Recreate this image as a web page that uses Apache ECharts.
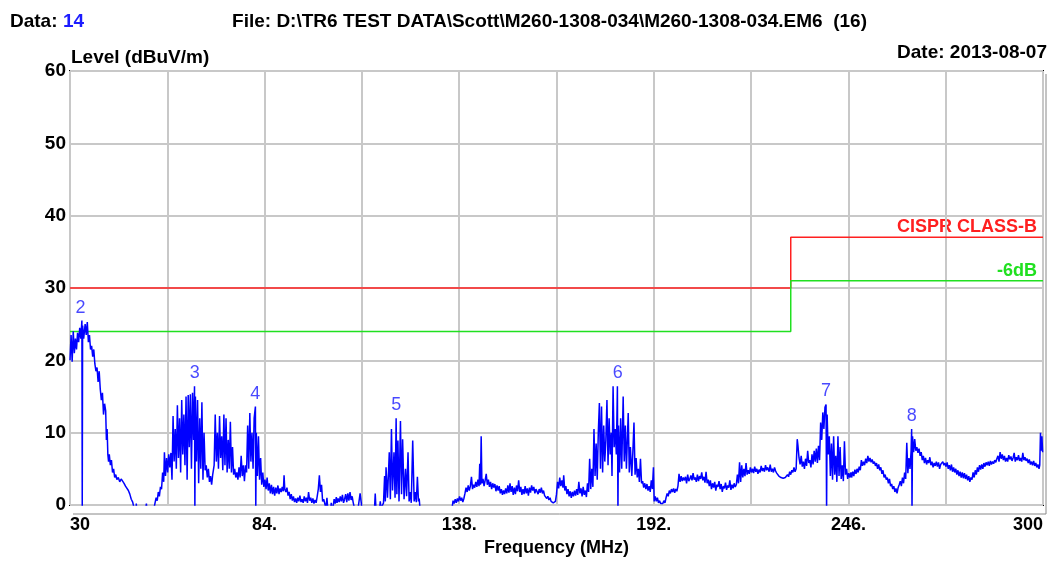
<!DOCTYPE html>
<html><head><meta charset="utf-8">
<script src="https://cdn.jsdelivr.net/npm/echarts@6/dist/echarts.min.js"></script>
<style>html,body{margin:0;padding:0;background:#fff}#c{width:1063px;height:562px}</style>
</head><body><div id="c"></div><script>
// ---- data ----
const xTickLabels = {30:'30',84:'84.',138:'138.',192:'192.',246:'246.',300:'300'};
const limitFreqs = [30, 230, 300];
const classBLevels = [30, 37];
const sixDbLevels = [24, 31];
// peak markers: [freq, level, label]
const markers = [[32.9,25.5,'2'],[64.6,16.4,'3'],[81.4,13.6,'4'],[120.5,12,'5'],[182,16.4,'6'],[239.8,13.9,'7'],[263.6,10.5,'8']];
// measured trace: [freq MHz, level dBuV/m]
const trace = [
[30.0,20],[30.3,23.5],[30.6,19.8],[30.9,24],[31.2,21],[31.5,23],[31.8,21.5],[32.1,23.8],[32.4,22.5],[32.7,24.5],[33.0,23],[33.3,25.5],[33.4,-1],[33.5,24.8],[33.8,23],[34.2,25],[34.5,23.5],[34.8,25.3],[35.1,22.5],[35.4,23.5],[35.7,21.5],[36.0,22],[36.3,20.5],[36.6,21.5],[36.9,19.5],[37.2,18.5],[37.5,19],[37.8,17],[38.1,18.5],[38.4,16],[38.7,14.5],[39.0,15.5],[39.3,12.5],[39.6,14],[39.9,13],[40.1,9],[40.3,10.5],[40.5,7],[40.7,6],[40.9,7],[41.2,5.5],[41.5,6.2],[41.8,4.5],[42.1,5],[42.4,3.8],[42.7,4.2],[43.0,3.5],[43.4,3.8],[43.8,3.2],[44.2,3.6],[44.6,3.3],[45.0,3],[45.4,2.6],[45.8,2.8],[46.2,2],[46.6,1.5],[47.0,0.8],[47.4,0.4],[47.8,-0.5],[48.2,-2],[48.4,0.2],[48.6,-2],[49.5,-3],[50.5,-3],[51.0,-0.5],[51.2,0.2],[51.4,-1],[52.5,-3],[53.3,-0.5],[53.6,0.3],[53.9,1],[54.2,0.6],[54.5,1.8],[54.8,1.2],[55.1,2.5],[55.4,2.2],[55.7,4.5],[56.0,3.2],[56.2,7.3],[56.5,4],[56.8,6.5],[57.1,4.5],[57.4,7.0],[57.7,5.2],[58.0,7.2],
[58.3,3.5],[58.6,12.3],[58.9,6],[59.2,10.5],[59.5,5],[59.8,13.8],[60.1,6.5],[60.4,12],[60.7,4.5],[61.0,14.5],[61.3,7],[61.6,12.5],[61.9,5.5],[62.2,15],[62.5,3.5],[62.8,15.2],[63.1,8],[63.4,15.3],[63.7,5],[64.0,15.5],[64.3,9],[64.55,16.4],[64.65,-1],[64.8,15],[65.1,6],[65.4,14.5],[65.7,3],[66.0,12],[66.3,5],[66.6,14.2],[66.9,3.5],[67.2,10],[67.5,4.8],[67.8,5.5],[68.1,3.8],[68.4,5],[68.7,3.2],[69.0,4],[69.3,2.8],[69.6,4.2],
[70.0,5.5],[70.3,12.5],[70.6,6],[70.9,10],[71.2,5],[71.5,12.3],[71.8,6.5],[72.1,9.5],[72.4,4.8],[72.7,12.5],[73.0,5.5],[73.3,12],[73.6,4.5],[73.9,9],[74.2,5],[74.5,11.5],[74.8,4.5],[75.1,8],[75.4,4.2],[75.7,5],[76.0,3.8],[76.3,4.5],[76.6,3.5],[76.9,5.2],[77.2,3.8],[77.5,6.8],[77.8,4],[78.1,5.5],[78.4,3.3],[78.7,5.5],
[79.0,4.5],[79.3,11],[79.6,5],[79.9,12.7],[80.2,6],[80.5,10],[80.8,5],[81.1,12],[81.45,13.6],[81.55,-1],[81.7,10],[82.0,4],[82.3,9.5],[82.6,3.5],[82.9,6.5],[83.2,2.8],[83.5,4.5],[83.8,2.5],[84.1,3.5],
[84.4,2.2],[84.7,3.8],[85.0,2],[85.3,3],[85.6,1.6],[85.9,2.8],[86.2,1.5],[86.5,2.5],[86.8,1.3],[87.1,2.4],[87.4,1.6],[87.7,2.7],[88.0,1.5],[88.3,2.3],[88.6,1.8],[88.9,2.5],[89.2,1.9],[89.4,4.1],[89.6,2.2],[89.9,1.8],[90.2,2.4],[90.5,1.3],[90.8,1.8],[91.1,0.8],[91.4,1.5],
[91.7,0.6],[92.0,1.2],[92.3,0.4],[92.6,0.9],[92.9,0.3],[93.2,1],[93.5,0.5],[93.8,1.3],[94.1,0.4],[94.4,0.8],[94.7,0.3],[95.0,1.2],[95.3,0.5],[95.6,1.0],[95.9,0.3],[96.2,1.8],[96.5,0.6],[96.8,1.0],[97.1,0.3],[97.4,0.9],[97.7,0.2],[98.0,0.7],[98.3,0.3],
[98.6,1.2],[98.9,2.2],[99.2,4.1],[99.5,1.8],[99.8,2.8],[100.1,0.5],[100.4,0.8],[100.7,0.2],[101.0,-0.5],[101.3,1.0],[101.6,-1],[102.2,-1],[102.5,0.3],[102.8,-1],[103.3,0.8],[103.6,0.2],[103.9,1.1],[104.1,0.3],[104.4,0.9],
[104.7,0.4],[105.0,1.2],[105.3,0.5],[105.6,1.4],[105.9,0.3],[106.2,0.8],[106.5,1.5],[106.8,0.4],[107.1,1.6],[107.4,0.6],[107.7,1.8],[108.0,0.7],[108.3,1.2],[108.6,0.3],[108.9,0.5],[109.2,-1],[109.8,-1],[110.2,0.5],[110.5,1.6],[110.8,0.4],[111.1,-1],[112.5,-2],[114.5,-0.5],[114.7,1.6],[114.9,-0.5],[115.9,-0.5],[116.1,0.5],[116.3,-0.5],
[117.0,0.3],[117.3,4],[117.5,0.5],[117.7,5.2],[118.1,1],[118.6,7.3],[118.9,0.8],[119.2,10.5],[119.5,2],[119.9,7.3],[120.2,1],[120.5,12],[120.7,1.5],[121.0,8.9],[121.3,0.5],[121.7,11.6],[122.0,1.5],[122.3,9.1],[122.7,0.8],[123.1,5],[123.4,1.2],[123.8,7.3],[124.1,0.5],[124.4,1.8],[124.7,0.3],[125.1,8.9],[125.5,0.5],[125.8,1.8],[126.1,0.4],[126.4,3.9],[126.7,0.5],[126.9,0.9],[127.2,-1],[131,-3],
[136.0,-0.5],[136.3,0.6],[136.6,0.2],[136.9,0.8],[137.2,0.3],[137.5,0.9],[137.8,0.5],[138.1,1.2],[138.4,0.6],[138.7,1.0],
[139.0,0.4],[139.3,0.9],[139.6,1.6],[139.9,2.4],[140.2,1.8],[140.5,2.7],[140.8,2],[141.1,2.6],[141.4,3.9],[141.7,2.2],[142.0,2.8],[142.3,2.4],[142.6,3.2],[142.9,2.5],[143.2,3.5],[143.5,2.6],[143.7,5.7],[143.9,2.8],[144.1,9.5],[144.3,3.0],[144.6,3.6],
[144.9,2.6],[145.2,3.4],[145.5,4.3],[145.8,2.8],[146.1,3.5],[146.4,2.5],[146.7,3.2],[147.0,2.2],[147.3,3],[147.6,2.4],[147.9,2.9],[148.2,1.9],[148.5,2.7],[148.8,2],[149.1,2.6],[149.4,1.6],[149.7,2.2],[150.0,1.4],[150.3,2.0],
[150.6,1.5],[150.9,2.3],[151.2,1.6],[151.5,2.7],[151.8,1.7],[152.1,3.0],[152.4,1.8],[152.7,2.6],[153.0,1.4],[153.3,2.4],[153.6,1.5],[153.9,2.7],[154.2,1.9],[154.5,3.4],[154.8,1.8],
[155.1,2.5],[155.4,1.4],[155.7,2.2],[156.0,1.5],[156.3,2.6],[156.6,1.6],[156.9,2.3],[157.2,1.3],[157.5,2.4],[157.8,1.7],[158.1,2.7],[158.4,2.0],[158.7,2.5],[159.0,1.6],[159.3,2.2],[159.6,2.4],
[159.9,1.5],[160.2,2.2],[160.5,1.7],[160.8,2.4],[161.1,1.6],[161.4,2.0],[161.7,1.3],[162.0,1.4],[162.3,0.9],[162.6,1.2],[162.9,0.7],[163.2,1.0],[163.5,0.5],[163.8,0.6],[164.1,0.3],[164.4,0.2],[164.7,0.5],
[165.0,1.5],[165.3,3.2],[165.6,2.3],[165.9,3.8],[166.2,2.6],[166.5,3.4],[166.8,2.4],[167.0,4.1],
[167.3,2.0],[167.6,2.6],[167.9,1.5],[168.2,2.2],[168.5,1.2],[168.8,1.9],[169.1,1.0],[169.4,1.8],[169.7,1.2],[170.0,2.0],[170.3,1.3],[170.6,2.2],[170.9,1.4],[171.2,3.2],[171.5,1.6],[171.8,2.3],[172.1,1.2],[172.4,2.5],[172.7,1.4],[173.0,2.0],[173.3,1.1],
[173.6,3.0],[173.9,1.8],[174.2,6.4],[174.5,2.2],[174.8,5],[175.1,2.5],[175.4,10.5],[175.7,4],[176.0,8.5],[176.3,3.5],[176.6,10],[176.9,14.1],[177.2,5],
[177.5,13.6],[177.8,4.5],[178.1,11],[178.4,6],[178.7,9],[179.0,14.5],[179.3,5.5],[179.6,12],[179.9,7],[180.2,10],[180.4,4],[180.7,16.4],[181.0,8],[181.3,10.5],
[181.6,7],[181.9,16.4],[182.05,-1],[182.2,11],[182.5,4.5],[182.8,12],[183.1,5],[183.5,15],[183.8,6],[184.1,11],[184.4,5],[184.9,12.7],[185.2,4.5],[185.5,8],
[185.9,4],[186.2,7.5],[186.5,11.4],[186.8,4.2],[187.1,6.5],[187.4,3.8],[187.7,5],[188.0,3.2],[188.3,6.4],[188.6,3.0],
[188.9,3.3],[189.2,2.4],[189.5,3.0],[189.8,2.2],[190.1,2.9],[190.4,2.0],[190.7,2.6],[191.0,1.8],[191.3,3.4],[191.6,2.2],[191.9,5.2],[192.1,0.5],
[192.4,1.2],[192.7,0.5],[193.0,1.0],[193.3,0.3],[193.6,0.6],[193.9,0.2],[194.2,0.4],[194.5,0.2],[194.8,0.6],[195.1,0.3],[195.4,1.0],[195.7,1.6],[196.0,1.2],[196.3,2.0],[196.6,1.6],[196.9,2.2],[197.2,1.8],[197.5,2.3],[197.8,1.7],[198.1,2.2],[198.4,1.9],[198.7,2.6],
[199.0,4.3],[199.3,3.2],[199.6,4.0],[199.9,3.3],[200.2,3.8],[200.5,3.4],[200.8,3.9],[201.1,3.0],[201.4,4.2],[201.7,3.3],[202.0,3.6],[202.3,4.1],[202.6,3.4],[202.9,4.4],[203.2,3.5],[203.5,3.8],[203.8,3.2],[204.1,4.2],[204.4,3.3],[204.7,4.0],[205.0,3.6],[205.3,4.5],[205.6,3.4],[205.9,3.9],[206.2,3.1],[206.5,4.6],[206.8,3.0],[207.1,3.5],
[207.4,2.6],[207.7,3.4],[208.0,2.2],[208.3,3.0],[208.6,2.4],[208.9,3.2],[209.2,2.0],[209.5,2.8],[209.8,2.5],[210.1,3.3],[210.4,2.2],[210.7,2.9],[211.0,1.8],[211.3,2.6],[211.6,2.3],[211.9,3.1],[212.2,2.1],[212.5,2.7],[212.8,2.4],[213.1,3.4],[213.4,2.1],[213.7,2.8],[214.0,2.3],[214.3,3.0],[214.6,2.5],[214.9,2.8],
[215.2,4.2],[215.5,3.0],[215.8,5.9],[216.1,3.2],[216.4,5.5],[216.7,3.8],[217.0,5.0],[217.3,4.0],[217.6,5.8],[217.9,4.2],[218.2,4.8],
[218.5,4.3],[218.8,5.2],[219.1,4.5],[219.4,5.0],[219.7,4.4],[220.0,5.3],[220.3,4.6],[220.6,5.0],[220.9,4.3],[221.2,4.9],[221.5,4.5],[221.8,5.4],[222.1,4.7],[222.4,5.1],[222.7,4.6],[223.0,5.5],[223.3,4.8],[223.6,5.2],[224.0,4.6],[224.3,5.6],[224.6,4.6],[224.9,5.0],[225.2,4.5],[225.5,5.2],[225.8,4.7],[226.1,4.4],[226.4,4.2],[226.7,4.0],[227.0,4.2],[227.3,3.8],[227.6,3.6],[227.9,3.7],[228.2,3.5],[228.5,3.8],[228.8,3.6],[229.1,4.2],[229.4,3.9],[229.7,4.6],[230.0,4.2],[230.3,4.8],[230.6,4.5],[230.9,5.2],[231.2,4.6],[231.5,5.0],
[231.8,9.1],[232.0,8.2],[232.3,6.5],[232.6,5.6],[232.9,6.8],[233.2,5.3],[233.5,6.0],[233.8,5.0],[234.1,6.4],[234.4,5.4],[234.7,7.5],[235.0,5.8],[235.3,6.2],[235.6,5.2],[235.9,7.0],[236.2,5.6],[236.5,7.5],[236.8,6.0],[237.1,7.8],[237.4,5.8],[237.7,8.2],[238.0,6.2],[238.3,11.4],[238.6,9.0],[238.9,12.8],[239.2,10.5],[239.5,13.5],[239.8,13.9],[239.95,-1],[240.1,12.5],[240.4,7.0],[240.7,9.5],[241.0,4.0],[241.3,8.5],[241.6,3.5],[241.9,9.5],[242.2,4.2],[242.5,6.8],[242.8,3.2],[243.1,9.5],[243.4,4.0],[243.7,8.0],[244.0,3.6],[244.3,5.5],[244.6,3.3],[244.9,8.8],[245.2,4.2],[245.5,5.0],[245.8,3.6],[246.1,4.4],[246.4,3.8],[246.7,4.5],
[246.9,3.8],[247.2,4.6],[247.5,4.0],[247.8,4.9],[248.1,4.3],[248.4,5.0],[248.7,4.5],[249.0,5.3],[249.3,4.8],[249.6,6.2],[249.9,5.4],[250.2,6.0],[250.5,5.5],[250.8,6.4],[251.1,5.8],[251.4,6.8],[251.7,6.0],[252.0,6.5],[252.3,5.9],[252.6,6.3],[252.9,5.7],[253.2,6.0],[253.5,5.4],[253.8,5.8],[254.1,5.0],[254.4,5.6],[254.7,4.8],[255.0,5.2],[255.3,4.3],[255.6,4.8],[255.9,3.8],[256.2,4.2],[256.5,3.5],[256.8,3.8],[257.1,3.0],[257.4,3.6],[257.7,2.6],[258.0,2.9],[258.3,2.2],[258.6,2.6],[258.9,1.8],[259.2,2.3],[259.5,1.6],[259.8,2.4],
[260.1,2.8],[260.4,3.3],[260.7,2.6],[261.0,3.8],[261.3,3.0],[261.6,4.5],[261.9,3.6],[262.2,8.6],[262.5,4.4],[262.8,6.5],[263.1,5.0],[263.4,7.5],[263.55,10.5],[263.65,-1],[263.8,9.5],[264.1,7.3],[264.4,9.1],[264.7,7.5],[265.0,8.0],[265.3,7.2],[265.6,7.8],
[265.9,6.8],[266.2,7.3],[266.5,6.2],[266.8,6.8],[267.1,5.8],[267.4,6.5],[267.7,5.6],[268.0,6.2],[268.3,5.8],[268.6,6.6],[268.9,5.5],[269.2,6.0],[269.5,5.2],[269.8,5.8],[270.1,5.4],[270.4,6.0],
[270.7,5.3],[271.0,5.9],[271.3,5.0],[271.6,5.6],[271.9,5.4],[272.2,6.0],[272.5,5.5],[272.8,5.8],[273.1,5.3],[273.4,5.9],[273.7,5.0],[274.0,5.5],[274.3,4.8],[274.6,5.6],[274.9,4.6],[275.2,5.2],[275.5,4.5],[275.8,5.0],[276.1,4.2],[276.4,4.8],[276.7,4.0],[277.0,4.6],[277.3,3.8],[277.6,4.5],[277.9,3.7],
[278.2,4.4],[278.5,3.6],[278.8,4.2],[279.1,3.4],[279.4,4.0],[279.7,3.2],[280.0,3.8],[280.3,3.5],[280.6,4.5],[280.9,3.8],
[281.2,4.8],[281.5,4.2],[281.8,5.2],[282.1,4.6],[282.4,5.5],[282.7,4.9],[283.0,5.6],[283.3,5.0],[283.6,5.8],[283.9,5.3],[284.2,5.9],[284.5,5.5],[284.8,6.0],[285.1,5.4],[285.4,6.1],[285.7,5.6],[286.0,6.0],[286.3,5.7],[286.6,6.2],[286.9,5.9],[287.2,6.4],
[287.5,6.8],[287.8,6.0],[288.1,7.3],[288.4,6.4],[288.7,7.0],[289.0,6.2],[289.3,6.8],[289.6,6.0],[289.9,6.5],[290.2,6.0],[290.5,6.9],[290.8,6.3],[291.1,6.7],[291.4,6.1],[291.7,6.5],[292.0,7.2],[292.3,6.0],[292.6,6.6],[292.9,6.2],[293.2,6.9],[293.5,6.1],[293.8,6.5],[294.1,6.0],[294.4,7.2],[294.7,6.2],[295.0,6.6],[295.3,6.1],[295.6,6.4],
[295.9,5.8],[296.2,6.3],[296.5,5.6],[296.8,6.0],[297.1,5.5],[297.4,6.1],[297.7,5.4],[298.0,5.8],[298.3,5.2],[298.6,5.6],[298.9,5.0],[299.1,5.5],[299.3,10.0],[299.5,7.5],[299.7,9.5],[299.9,7.3]
];

// ---- chart ----
const FONT = '"Liberation Sans", Arial, sans-serif';
const stepLine = (levels) => [[limitFreqs[0],levels[0]],[limitFreqs[1],levels[0]],[limitFreqs[1],levels[1]],[limitFreqs[2],levels[1]]];

const chart = echarts.init(document.getElementById('c'), null, {renderer:'canvas'});
chart.setOption({
  animation:false,
  backgroundColor:'#fff',
  grid:{left:70,right:20,top:71,bottom:50,show:true,borderColor:'#000',borderWidth:2,backgroundColor:'transparent'},
  xAxis:{type:'value',min:30,max:300,interval:27,
    axisLine:{show:false},axisTick:{show:false},
    splitLine:{show:true,lineStyle:{color:'#c8c8c8',width:2}},
    axisLabel:{formatter:v=>xTickLabels[v]||'',color:'#000',fontWeight:'bold',fontSize:18,fontFamily:FONT,margin:11,alignMinLabel:'left',alignMaxLabel:'right'},
    name:'Frequency (MHz)',nameLocation:'middle',nameGap:34,
    nameTextStyle:{color:'#000',fontWeight:'bold',fontSize:18,fontFamily:FONT}},
  yAxis:{type:'value',min:0,max:60,interval:10,
    axisLine:{show:false},axisTick:{show:false},
    splitLine:{show:true,lineStyle:{color:'#c8c8c8',width:2}},
    axisLabel:{color:'#000',fontWeight:'bold',fontSize:19,fontFamily:FONT,margin:4}},
  series:[
    {type:'line',data:trace,showSymbol:false,symbol:'none',clip:true,lineStyle:{color:'#0000ff',width:1.5},z:3},
    {type:'line',data:stepLine(classBLevels),showSymbol:false,symbol:'none',lineStyle:{color:'#ff2020',width:1.5},z:2},
    {type:'line',data:stepLine(sixDbLevels),showSymbol:false,symbol:'none',lineStyle:{color:'#20e020',width:1.5},z:2},
    {type:'scatter',data:markers,symbolSize:2,itemStyle:{color:'rgba(0,0,0,0)'},z:4,
      label:{show:true,position:'top',distance:3,formatter:p=>p.data[2],color:'#1a1aff',fontSize:18,fontFamily:FONT}}
  ],
  graphic:[
    {type:'text',x:10,y:12,style:{text:'Data:',font:'bold 19px '+FONT,fill:'#000'}},
    {type:'text',x:63,y:12,style:{text:'14',font:'bold 19px '+FONT,fill:'#1c1cff'}},
    {type:'text',x:867,y:12,style:{text:'File: D:\\TR6 TEST DATA\\Scott\\M260-1308-034\\M260-1308-034.EM6  (16)',font:'bold 19px '+FONT,fill:'#000',align:'right'}},
    {type:'text',x:71,y:48,style:{text:'Level (dBuV/m)',font:'bold 19px '+FONT,fill:'#000'}},
    {type:'text',x:1047,y:43,style:{text:'Date: 2013-08-07',font:'bold 19px '+FONT,fill:'#000',align:'right'}},
    {type:'text',x:1037,y:218,style:{text:'CISPR CLASS-B',font:'bold 18px '+FONT,fill:'#ff2020',align:'right'}},
    {type:'text',x:1037,y:262,style:{text:'-6dB',font:'bold 18px '+FONT,fill:'#20e020',align:'right'}},
    {type:'line',shape:{x1:1046,y1:74,x2:1046,y2:514},style:{stroke:'#888',lineWidth:1}},
    {type:'line',shape:{x1:73,y1:514,x2:1046,y2:514},style:{stroke:'#888',lineWidth:1}}
  ]
});
</script></body></html>
